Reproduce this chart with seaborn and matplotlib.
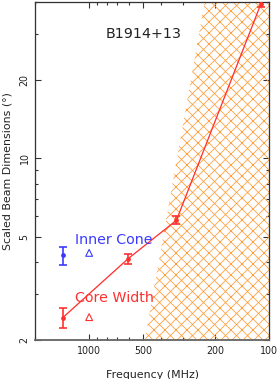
import numpy as np
import pandas as pd
import matplotlib
matplotlib.use("Agg")
import matplotlib.pyplot as plt
import seaborn as sns
from matplotlib.ticker import LogLocator, FixedLocator, FixedFormatter, NullFormatter

# ---- data ----
core_freq = [1400, 610, 327, 111]
core_width = [2.44, 4.10, 5.78, 39.3]
core_err = [0.21, 0.18, 0.21, 1.0]

inner_freq = [1400]
inner_width = [4.23]
inner_err = [0.33]

pred_freq = [1000]
pred_inner = [4.33]
pred_core = [2.45]

boundary_freq = [490, 228]
boundary_width = [2, 40]

x_ticks = [1000, 500, 200, 100]
y_ticks = [2, 5, 10, 20]

RED = "#ff3030"
BLUE = "#3a3aff"
ORANGE = "#ffa040"

DPI = 132
sns.set_style("ticks")
plt.rcParams["font.family"] = ["DejaVu Sans"]
plt.rcParams["hatch.linewidth"] = 0.45

fig = plt.figure(figsize=(278 / DPI, 379 / DPI), dpi=DPI)
W, H = 278, 379
ax = fig.add_axes([35 / W, (379 - 340) / H, (269 - 35) / W, (340 - 2) / H])

ax.set_xscale("log")
ax.set_yscale("log")
ax.set_xlim(2000, 100)
ax.set_ylim(2, 40)

# hatched region
ax.fill_betweenx(boundary_width, boundary_freq, [100, 100], facecolor="none",
                 edgecolor=ORANGE, hatch="xxxx", linewidth=0, zorder=1)

core_df = pd.DataFrame({"freq": core_freq, "width": core_width})
sns.lineplot(data=core_df, x="freq", y="width", sort=False, color=RED,
             linewidth=0.7, ax=ax, zorder=3)
ax.errorbar(core_freq, core_width, yerr=core_err, fmt="o", color=RED,
            ms=1.6, elinewidth=0.9, capsize=2, capthick=0.9, zorder=4)
ax.errorbar(inner_freq, inner_width, yerr=inner_err, fmt="o", color=BLUE,
            ms=1.6, elinewidth=0.9, capsize=2, capthick=0.9, zorder=4)

pred_df = pd.DataFrame({"freq": pred_freq * 2, "width": pred_inner + pred_core,
                        "kind": ["inner", "core"]})
sns.scatterplot(data=pred_df, x="freq", y="width", hue="kind",
                palette={"inner": BLUE, "core": RED}, marker="^",
                s=14, facecolor="none", linewidth=0.6, legend=False, ax=ax, zorder=4)
for coll in ax.collections[-1:]:
    coll.set_facecolor("none")
    coll.set_edgecolor([BLUE, RED])

fs_big = 7.8
ax.text(0.30, 0.905, "B1914+13", transform=ax.transAxes, ha="left", va="center",
        fontsize=fs_big, color="#222222")
ax.text(0.171, 0.296, "Inner Cone", transform=ax.transAxes, ha="left", va="center",
        fontsize=fs_big, color=BLUE)
ax.text(0.171, 0.124, "Core Width", transform=ax.transAxes, ha="left", va="center",
        fontsize=fs_big, color=RED)

# ticks
ax.xaxis.set_major_locator(FixedLocator(x_ticks))
ax.xaxis.set_major_formatter(FixedFormatter([str(t) for t in x_ticks]))
ax.xaxis.set_minor_locator(LogLocator(base=10, subs=np.arange(2, 10)))
ax.xaxis.set_minor_formatter(NullFormatter())
ax.yaxis.set_major_locator(FixedLocator(y_ticks))
ax.yaxis.set_major_formatter(FixedFormatter([str(t) for t in y_ticks]))
ax.yaxis.set_minor_locator(LogLocator(base=10, subs=np.arange(1, 10)))
ax.yaxis.set_minor_formatter(NullFormatter())

ax.tick_params(which="both", direction="in", top=True, right=True, width=0.6,
               color="#333333")
ax.tick_params(which="major", length=3.2, labelsize=5.2, pad=3, labelcolor="#222222")
ax.tick_params(which="minor", length=1.8)
for lab in ax.get_yticklabels():
    lab.set_rotation(90)
    lab.set_va("center")
for sp in ax.spines.values():
    sp.set_linewidth(0.7)
    sp.set_color("#333333")
ax.spines["bottom"].set_linewidth(1.0)
ax.spines["bottom"].set_color("#666666")

ax.set_xlabel("Frequency (MHz)", fontsize=6.0, color="#222222", labelpad=8)
ax.set_ylabel("Scaled Beam Dimensions (°)", fontsize=6.0, color="#222222", labelpad=4)

fig.savefig("out.png", dpi=DPI)
